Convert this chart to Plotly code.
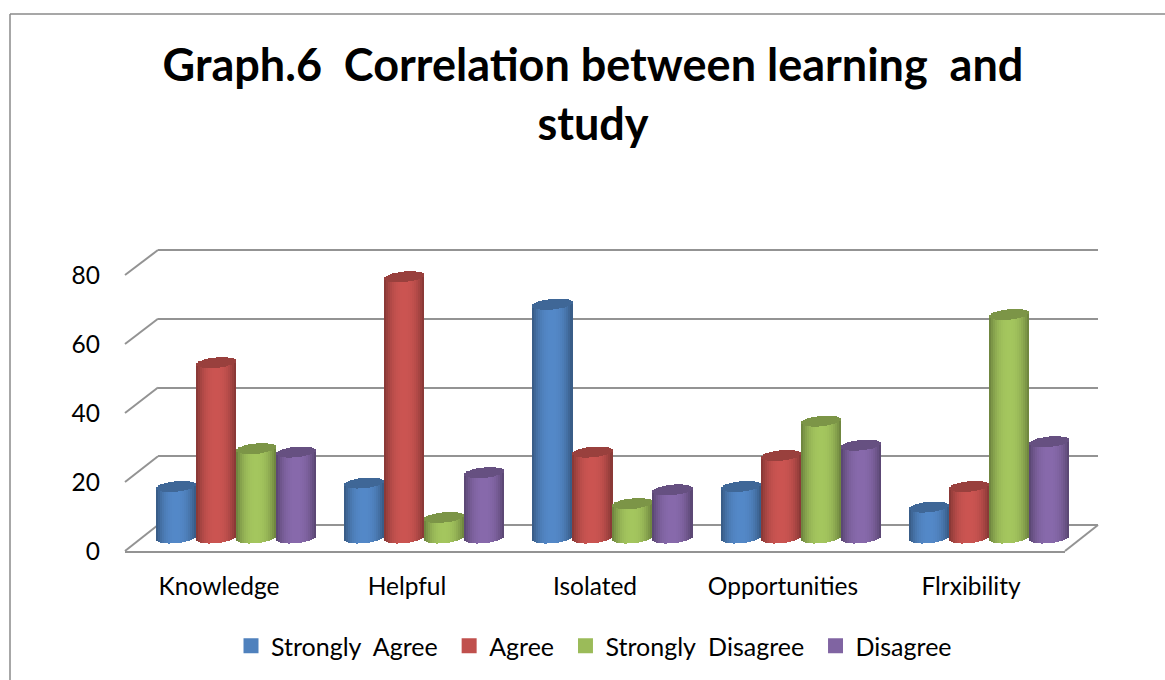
import math
import plotly.graph_objects as go

categories = ["Knowledge", "Helpful", "Isolated", "Opportunities", "Flrxibility"]
strongly_agree = [15, 16, 68, 15, 9]
agree = [51, 76, 25, 24, 15]
strongly_disagree = [26, 6, 10, 34, 65]
disagree = [25, 19, 14, 27, 28]
series_names = ["Strongly\u00a0 Agree", "Agree", "Strongly\u00a0 Disagree", "Disagree"]
y_ticks = [0, 20, 40, 60, 80]

series_values = [strongly_agree, agree, strongly_disagree, disagree]
base_colors = [(79, 129, 189), (192, 80, 77), (155, 187, 89), (128, 100, 162)]
legend_colors = ["#4f81bd", "#c0504d", "#9bbb59", "#8064a2"]

W, H = 1165, 680
GRID = "#939393"
FONT = "Lato, Carlito, Calibri, sans-serif"
PX_PER_UNIT = 3.4375
PITCH = 188.25
STRIPS = 20
BAR_FRAC = 40 / PITCH
RADIUS_Y = 5.2 / PX_PER_UNIT
TILT_Y = 1.8 / PX_PER_UNIT


def xd(a, b):
    return [a / W, b / W]


def yd(top, bot):
    return [1 - bot / H, 1 - top / H]


def shade(rgb, f):
    return "rgb(%d,%d,%d)" % tuple(min(255, int(c * f)) for c in rgb)


fig = go.Figure()

# invisible trace so that the back wall subplot (x / y) exists and draws first
fig.add_trace(go.Scatter(x=[None], y=[None], xaxis="x", yaxis="y", showlegend=False, hoverinfo="skip"))

for s, values in enumerate(series_values):
    bx, bw, bb, by, bc = [], [], [], [], []
    cx, cw, cb, cy, cc = [], [], [], [], []
    for i, v in enumerate(values):
        center = i + (s - 1.5) * BAR_FRAC
        r = BAR_FRAC / 2
        for k in range(STRIPS):
            t = -1 + (2 * k + 1) / STRIPS
            lift = RADIUS_Y * math.sqrt(max(0, 1 - t * t))
            tilt = TILT_Y * t
            f = 0.68 + 0.38 * (1 - abs(t) ** 2.4)
            bx.append(center + t * r)
            bw.append(2 * r / STRIPS * 1.12)
            bb.append(tilt - lift)
            by.append(v + lift)
            bc.append(shade(base_colors[s], f))
            cx.append(center + t * r)
            cw.append(2 * r / STRIPS * 1.12)
            cb.append(v + tilt - lift)
            cy.append(2 * lift)
            cc.append(shade(base_colors[s], 0.8))
    fig.add_trace(go.Bar(x=bx, y=by, base=bb, width=bw, marker=dict(color=bc, line=dict(width=0)),
                         xaxis="x2", yaxis="y2", showlegend=False, hoverinfo="skip"))
    fig.add_trace(go.Bar(x=cx, y=cy, base=cb, width=cw, marker=dict(color=cc, line=dict(width=0)),
                         xaxis="x2", yaxis="y2", showlegend=False, hoverinfo="skip"))

# front axes carry the labels
fig.add_trace(go.Scatter(x=categories, y=[None] * 5, xaxis="x3", yaxis="y3", showlegend=False, hoverinfo="skip"))

# legend entries
for name, col in zip(series_names, legend_colors):
    fig.add_trace(go.Scatter(x=[None], y=[None], mode="markers", name=name + "\u00a0",
                             marker=dict(symbol="square", size=15, color=col),
                             xaxis="x3", yaxis="y3"))

shapes = []
front_left, back_left, front_right, back_right = 125, 158, 1065, 1098
for j in range(len(y_ticks)):
    fy = 551 - j * 69
    by = 525 - j * 68.75
    shapes.append(dict(type="line", xref="paper", yref="paper", layer="below",
                       x0=front_left / W, x1=back_left / W, y0=1 - fy / H, y1=1 - by / H,
                       line=dict(color=GRID, width=2)))
shapes.append(dict(type="line", xref="paper", yref="paper", layer="below",
                   x0=front_right / W, x1=back_right / W, y0=1 - 551 / H, y1=1 - 525 / H,
                   line=dict(color=GRID, width=2)))
# chart frame
shapes.append(dict(type="line", xref="paper", yref="paper", x0=10 / W, x1=10 / W, y0=0, y1=1 - 14 / H,
                   line=dict(color="#8a8a8a", width=1.5)))
shapes.append(dict(type="line", xref="paper", yref="paper", x0=10 / W, x1=1, y0=1 - 14 / H, y1=1 - 14 / H,
                   line=dict(color="#8a8a8a", width=1.5)))

cyl_x_lo = (125 - 236) / PITCH
cyl_x_hi = (1098 - 236) / PITCH
cyl_p0 = 538
back_pad = 20 / 68.75 * 5  # keeps the 0 and 80 gridlines away from the subplot edge
pad_px = back_pad * 3.4375

fig.update_layout(
    width=W, height=H, margin=dict(l=0, r=0, t=0, b=0, pad=0, autoexpand=False),
    paper_bgcolor="white", plot_bgcolor="rgba(0,0,0,0)",
    barmode="overlay", bargap=0,
    font=dict(family=FONT, color="#000000", size=24.5),
    title=dict(text="<b>Graph.6\u00a0 Correlation between learning\u00a0 and<br>study</b>",
               x=593 / W, xanchor="center", y=1 - 81 / H, yanchor="middle",
               font=dict(family=FONT, size=45, color="#000000")),
    shapes=shapes,
    # back wall
    xaxis=dict(domain=xd(back_left, back_right), range=[0, 1], visible=False, showgrid=False),
    yaxis=dict(domain=yd(250 - pad_px, 525 + pad_px), range=[-back_pad, 80 + back_pad], anchor="x",
               tickvals=y_ticks, showticklabels=False,
               showgrid=True, gridcolor=GRID, gridwidth=2, zeroline=False, showline=False, ticks=""),
    # cylinders
    xaxis2=dict(domain=xd(125, 1098), range=[cyl_x_lo, cyl_x_hi], visible=False, anchor="y2"),
    yaxis2=dict(domain=yd(250, 560), range=[(cyl_p0 - 560) / PX_PER_UNIT, (cyl_p0 - 250) / PX_PER_UNIT],
                visible=False, anchor="x2"),
    # front axes
    xaxis3=dict(domain=xd(front_left, front_right), type="category", categoryorder="array",
                categoryarray=categories, range=[-0.5, 4.5], anchor="y3", showline=True,
                linecolor=GRID, linewidth=2, showgrid=False, zeroline=False, ticks="",
                ticklabelstandoff=13, tickfont=dict(size=24.5)),
    yaxis3=dict(domain=yd(275, 551), range=[0, 80], anchor="x3", tickvals=y_ticks, showgrid=False,
                zeroline=False, showline=False, ticks="", ticklabelstandoff=24, tickfont=dict(size=24.5)),
    legend=dict(orientation="h", x=231 / W, xanchor="left", y=1 - 623 / H, yanchor="top",
                font=dict(size=25), itemclick=False, itemdoubleclick=False, bgcolor="rgba(0,0,0,0)"),
)

fig.write_html("out.html", config={"displayModeBar": False},
               post_script="document.body.style.margin='0';")
